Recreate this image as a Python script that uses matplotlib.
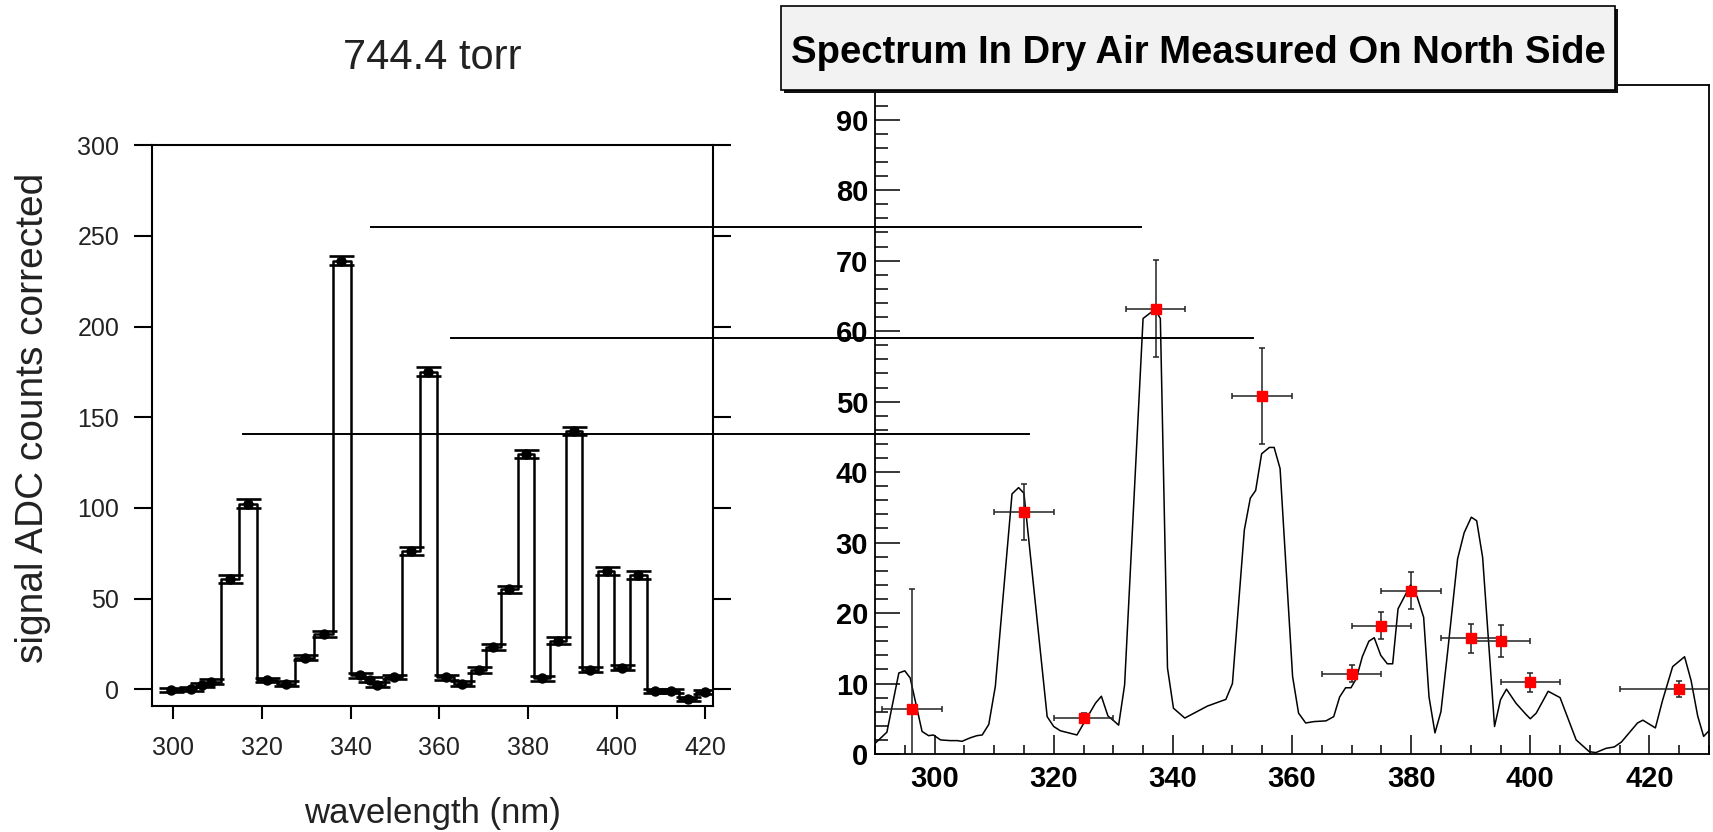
import matplotlib
matplotlib.use("Agg")
import matplotlib.pyplot as plt
from matplotlib.ticker import MultipleLocator
from matplotlib.patches import Rectangle
from matplotlib.lines import Line2D

# ---------------- data ----------------
# Left panel: 744.4 torr histogram points
left_wl = [299.6, 303.9, 306.5, 308.6, 312.8, 316.8, 321.2, 325.4, 329.7, 334.0,
           337.9, 342.1, 344.3, 346.0, 349.7, 353.6, 357.5, 361.4, 365.1, 369.0,
           372.2, 375.8, 379.6, 383.1, 386.7, 390.3, 394.0, 397.7, 401.1, 404.9,
           408.6, 412.2, 416.0, 419.9]
left_sig = [-0.3, 0.3, 2.2, 4.2, 61.0, 102.3, 5.1, 3.0, 17.5, 30.5,
            236.3, 7.7, 5.3, 2.6, 6.7, 76.5, 175.0, 6.6, 3.0, 10.6,
            23.4, 55.2, 129.8, 6.0, 26.9, 142.4, 10.7, 65.3, 11.9, 63.0,
            -0.9, -1.0, -5.5, -1.4]
left_err = [1.2, 1.2, 1.2, 1.2, 2.3, 2.4, 1.3, 1.3, 1.6, 1.8,
            2.4, 1.3, 1.3, 1.3, 1.3, 2.2, 2.5, 1.3, 1.3, 1.5,
            1.6, 2.0, 2.3, 1.3, 1.7, 2.4, 1.4, 2.3, 1.5, 2.3,
            1.2, 1.2, 1.2, 1.2]

# Right panel: spectrum curve
spec_wl = [290.0, 292.0, 294.0, 295.0, 295.9, 297.9, 299.0, 299.8, 301.0, 302.6,
           303.8, 304.6, 306.0, 307.1, 308.0, 309.1, 310.2, 313.0, 314.1, 315.0,
           318.9, 320.0, 321.1, 323.9, 327.0, 328.0, 329.1, 330.1, 330.9, 331.9,
           335.0, 337.0, 337.9, 339.1, 340.1, 342.0, 345.8, 348.9, 350.0, 352.0,
           353.0, 353.9, 354.9, 356.2, 357.0, 358.0, 360.1, 361.1, 362.3, 363.7,
           365.7, 367.0, 368.0, 369.0, 369.9, 370.8, 371.8, 372.9, 373.8, 374.9,
           376.0, 376.9, 377.8, 379.1, 379.9, 381.0, 382.1, 383.0, 384.0, 385.0,
           386.1, 387.8, 388.9, 390.1, 391.0, 392.0, 394.0, 395.0, 396.0, 397.6,
           399.3, 400.0, 401.0, 403.0, 405.0, 407.7, 409.9, 411.0, 412.7, 414.1,
           415.3, 418.0, 418.9, 421.0, 422.2, 423.9, 425.9, 427.0, 428.1, 429.1,
           430.0]
spec_val = [1.5, 3.1, 11.5, 11.8, 10.8, 3.2, 2.6, 2.7, 2.0, 1.9,
            1.9, 1.8, 2.3, 2.6, 2.7, 4.2, 9.6, 36.9, 37.8, 37.0,
            5.3, 3.9, 3.3, 2.7, 7.2, 8.2, 5.4, 4.7, 4.1, 9.8,
            61.8, 63.1, 61.8, 12.2, 6.5, 5.1, 6.8, 7.75, 10.0, 31.8,
            36.3, 37.4, 42.6, 43.5, 43.5, 40.5, 11.0, 5.8, 4.4, 4.6,
            4.7, 5.3, 8.1, 9.4, 9.4, 10.7, 13.8, 16.0, 16.5, 14.0,
            12.8, 12.8, 20.6, 22.7, 24.0, 22.3, 19.4, 8.1, 3.0, 6.0,
            14.3, 27.7, 31.4, 33.6, 33.1, 27.9, 3.9, 7.7, 9.2, 7.2,
            5.6, 5.0, 5.8, 8.9, 8.0, 2.0, 0.33, 0.2, 0.8, 1.0,
            1.7, 4.4, 4.8, 3.7, 7.6, 12.4, 13.8, 10.4, 5.4, 2.5,
            3.3]

# Right panel: measured points
meas_wl = [296.2, 315.0, 325.0, 337.1, 355.0, 370.0, 375.0, 380.0, 390.0, 395.0, 400.0, 425.0]
meas_val = [6.35, 34.3, 5.15, 63.2, 50.8, 11.4, 18.2, 23.2, 16.4, 16.05, 10.15, 9.2]
meas_yerr = [17.1, 4.0, 0.6, 6.9, 6.8, 1.2, 1.9, 2.6, 2.0, 2.3, 1.4, 1.15]
meas_xerr = [5, 5, 5, 5, 5, 5, 5, 5, 5, 5, 5, 10]

# connecting horizontal lines: (left-panel y, left-panel start x, right-panel end x)
link_y_left = [255.2, 193.5, 140.6]
link_x_start = [344.6, 362.6, 315.7]
link_x_end = [334.6, 353.5, 315.9]

# ---------------- figure ----------------
W, H = 1713, 832
fig = plt.figure(figsize=(W / 100, H / 100), dpi=100)
fig.patch.set_facecolor("white")

def fx(px):
    return px / W

def fy(py):
    return 1 - py / H

txt_col = "#222222"
lfont = ["Liberation Sans", "DejaVu Sans"]

# ---- left panel ----
ax1 = fig.add_axes([fx(151.5), fy(705.7), fx(561), 560.4 / H])
ax1.step(left_wl, left_sig, where="mid", color="black", lw=1.8, zorder=2)
ax1.errorbar(left_wl, left_sig, yerr=left_err, fmt="o", ms=6.5, color="black",
             ecolor="black", elinewidth=1.5, capsize=9, capthick=1.9, zorder=3)
ax1.set_xlim(295.1, 421.6)
ax1.set_ylim(-9.05, 300)
ax1.set_xticks([300, 320, 340, 360, 380, 400, 420])
ax1.set_yticks([0, 50, 100, 150, 200, 250, 300])
for s in ax1.spines.values():
    s.set_linewidth(1.5)
ax1.tick_params(axis="y", which="both", direction="out", length=13.3, width=1.5,
                pad=10, labelsize=18, labelcolor=txt_col, left=True, right=True)
ax1.tick_params(axis="x", which="both", direction="out", length=9, width=1.5,
                pad=13, labelsize=18, labelcolor=txt_col, top=False)
for lab in ax1.get_xticklabels() + ax1.get_yticklabels():
    lab.set_family(lfont)

fig.text(fx(432), fy(58), "744.4 torr", ha="center", va="center", fontsize=30,
         family=lfont, color=txt_col)
fig.text(fx(33), fy(418), "signal ADC counts corrected", rotation=90, ha="center",
         va="center", fontsize=28, family=lfont, color=txt_col)
fig.text(fx(432), fy(813), "wavelength (nm)", ha="center", va="center", fontsize=25,
         family=lfont, color=txt_col)

# ---- right panel ----
ax2 = fig.add_axes([fx(875), fy(754), fx(834), 669.5 / H])
ax2.plot(spec_wl, spec_val, color="black", lw=1.1, zorder=2)
ax2.errorbar(meas_wl, meas_val, xerr=meas_xerr, yerr=meas_yerr, fmt="s", ms=6.5,
             mfc="red", mec="red", ecolor="#222222", elinewidth=1.1, capsize=2.5,
             capthick=1.1, zorder=3)
ax2.set_xlim(290, 430)
ax2.set_ylim(0, 95)
ax2.xaxis.set_major_locator(MultipleLocator(20))
ax2.xaxis.set_minor_locator(MultipleLocator(5))
ax2.yaxis.set_major_locator(MultipleLocator(10))
ax2.yaxis.set_minor_locator(MultipleLocator(2))
for s in ax2.spines.values():
    s.set_linewidth(1.3)
ax2.tick_params(axis="y", which="major", direction="in", length=18, width=1.1,
                pad=5, labelsize=21)
ax2.tick_params(axis="y", which="minor", direction="in", length=9, width=1.1)
ax2.tick_params(axis="x", which="major", direction="in", length=14, width=1.1,
                pad=8, labelsize=21)
ax2.tick_params(axis="x", which="minor", direction="in", length=6.5, width=1.1)
for lab in ax2.get_xticklabels() + ax2.get_yticklabels():
    lab.set_family(lfont)
    lab.set_fontweight("bold")

# title box with shadow
bx0, by0, bx1, by1 = 781, 6, 1615, 90
fig.add_artist(Rectangle((fx(bx0 + 3), fy(by1 + 3)), fx(bx1 - bx0), (by1 - by0) / H,
                         transform=fig.transFigure, facecolor="#111111",
                         edgecolor="none", zorder=5))
fig.add_artist(Rectangle((fx(bx0), fy(by1)), fx(bx1 - bx0), (by1 - by0) / H,
                         transform=fig.transFigure, facecolor="#f2f2f2",
                         edgecolor="black", lw=1.2, zorder=6))
fig.text(fx((bx0 + bx1) / 2), fy(63.3), "Spectrum In Dry Air Measured On North Side",
         ha="center", va="baseline", fontsize=27.5, fontweight="bold", family=lfont,
         color="black", zorder=7)

# ---- connecting lines ----
inv = fig.transFigure.inverted()
for yl, xs, xe in zip(link_y_left, link_x_start, link_x_end):
    p0 = ax1.transData.transform((xs, yl))
    p1x = ax2.transData.transform((xe, 0))[0]
    a = inv.transform(p0)
    b = inv.transform((p1x, p0[1]))
    fig.add_artist(Line2D([a[0], b[0]], [a[1], b[1]], transform=fig.transFigure,
                          color="black", lw=1.4, zorder=4))

fig.savefig("out.png", dpi=100)
